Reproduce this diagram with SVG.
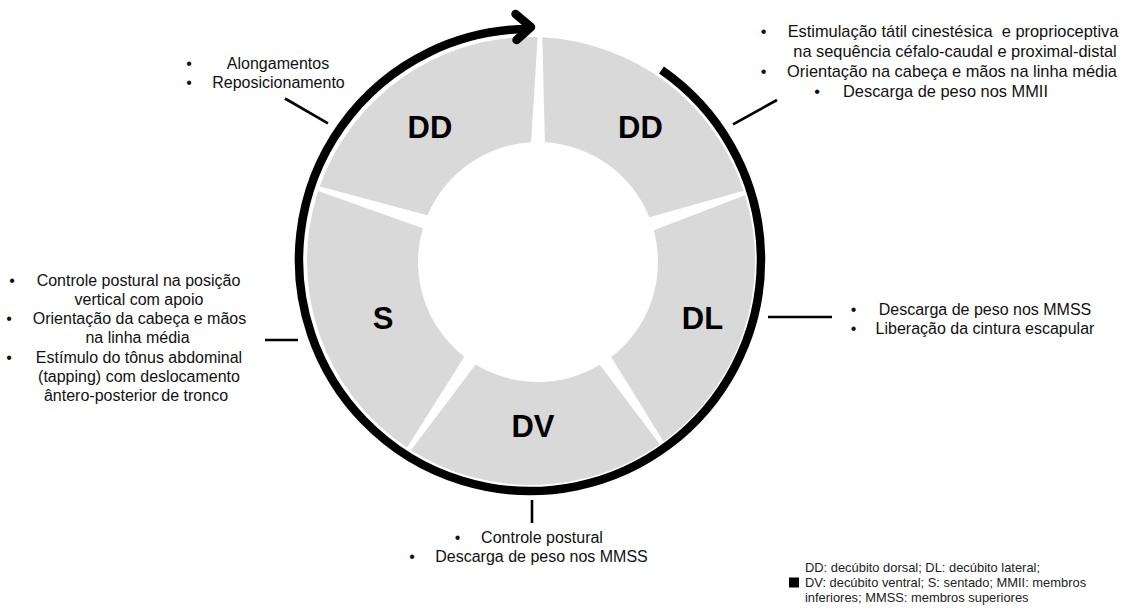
<svg xmlns="http://www.w3.org/2000/svg" width="1125" height="612" viewBox="0 0 1125 612">
<style>
.seg{fill:#d9d9d9;stroke:none}
.lbl{font-family:"Liberation Sans",Arial,sans-serif;font-weight:bold;font-size:31px;fill:#000;text-anchor:middle}
.t{font-family:"Liberation Sans",Arial,sans-serif;font-size:16px;fill:#111;text-anchor:middle}
.t2{font-family:"Liberation Sans",Arial,sans-serif;font-size:16.4px;fill:#111;text-anchor:middle}
.lg{font-family:"Liberation Sans",Arial,sans-serif;font-size:12.9px;fill:#222}
.tick{stroke:#000;stroke-width:2.6;fill:none}
.cyc{stroke:#000;stroke-width:8.5;fill:none}
</style>
<rect width="1125" height="612" fill="#fff"/>
<g id="seg-dd-right">
<path class="seg" d="M542.33,37.29 A224,224 0 0 1 743.67,190.67 L649.34,217.24 A120,120 0 0 0 544.91,142.20 Z"/>
<text class="lbl" x="640.5" y="138">DD</text>
</g>
<g id="seg-dl">
<path class="seg" d="M745.10,195.13 A224,224 0 0 1 663.61,441.53 L611.20,357.09 A120,120 0 0 0 653.75,230.34 Z"/>
<text class="lbl" x="702.5" y="329">DL</text>
</g>
<g id="seg-dv">
<path class="seg" d="M659.80,444.27 A224,224 0 0 1 410.97,450.13 L475.66,364.54 A120,120 0 0 0 599.80,364.86 Z"/>
<text class="lbl" x="533" y="437">DV</text>
</g>
<g id="seg-s">
<path class="seg" d="M407.04,447.57 A224,224 0 0 1 318.21,191.04 L422.82,228.32 A120,120 0 0 0 464.29,356.69 Z"/>
<text class="lbl" x="383" y="329">S</text>
</g>
<g id="seg-dd-left">
<path class="seg" d="M319.72,186.60 A224,224 0 0 1 537.65,37.10 L531.09,142.20 A120,120 0 0 0 427.46,215.31 Z"/>
<text class="lbl" x="430" y="138">DD</text>
</g>
<g id="connectors">
<path class="cyc" d="M661.5,70.1 A231,231 0 1 1 527.98,29.01"/>
<path class="cyc" d="M515.5,14 L531,27 L516.5,40" stroke-linecap="round" stroke-linejoin="round"/>
<line class="tick" x1="285" y1="98.5" x2="328" y2="123.3"/>
<line class="tick" x1="733" y1="124.3" x2="777" y2="100"/>
<line class="tick" x1="265" y1="340" x2="298" y2="340"/>
<line class="tick" x1="768" y1="317" x2="832" y2="317"/>
<line class="tick" x1="532" y1="500" x2="532" y2="523"/>
</g>
<g id="text-dd-left">
<text class="t" x="189" y="68.5">•</text>
<text class="t" x="278" y="68.5">Alongamentos</text>
<text class="t" x="189" y="88">•</text>
<text class="t" x="278.5" y="88">Reposicionamento</text>
</g>
<g id="text-dd-right">
<text class="t2" x="763.5" y="36.5">•</text>
<text class="t2" x="953" y="36.5" xml:space="preserve">Estimulação tátil cinestésica  e proprioceptiva</text>
<text class="t2" x="955" y="56.5">na sequência céfalo-caudal e proximal-distal</text>
<text class="t2" x="763.5" y="76.5">•</text>
<text class="t2" x="952" y="76.5">Orientação na cabeça e mãos na linha média</text>
<text class="t2" x="817" y="96.5">•</text>
<text class="t2" x="945.5" y="96.5">Descarga de peso nos MMII</text>
</g>
<g id="text-dl">
<text class="t" x="853.5" y="314.5">•</text>
<text class="t" x="985" y="314.5">Descarga de peso nos MMSS</text>
<text class="t" x="853.5" y="333.5">•</text>
<text class="t" x="985" y="333.5">Liberação da cintura escapular</text>
</g>
<g id="text-dv">
<text class="t" x="457.5" y="542.5">•</text>
<text class="t" x="542" y="542.5">Controle postural</text>
<text class="t" x="412" y="561.5">•</text>
<text class="t" x="541.5" y="561.5">Descarga de peso nos MMSS</text>
</g>
<g id="text-s">
<text class="t" x="12" y="286">•</text>
<text class="t" x="138.5" y="286">Controle postural na posição</text>
<text class="t" x="139" y="305">vertical com apoio</text>
<text class="t" x="9" y="324">•</text>
<text class="t" x="139.5" y="324">Orientação da cabeça e mãos</text>
<text class="t" x="137.5" y="343">na linha média</text>
<text class="t" x="9" y="362.5">•</text>
<text class="t" x="139" y="362.5">Estímulo do tônus abdominal</text>
<text class="t" x="139" y="382">(tapping) com deslocamento</text>
<text class="t" x="136" y="401">ântero-posterior de tronco</text>
</g>
<g id="legend">
<rect x="789" y="577.5" width="10" height="10" fill="#000"/>
<text class="lg" x="805" y="571.5">DD: decúbito dorsal; DL: decúbito lateral;</text>
<text class="lg" x="805" y="587">DV: decúbito ventral; S: sentado; MMII: membros</text>
<text class="lg" x="805" y="602.3">inferiores; MMSS: membros superiores</text>
</g>
</svg>
